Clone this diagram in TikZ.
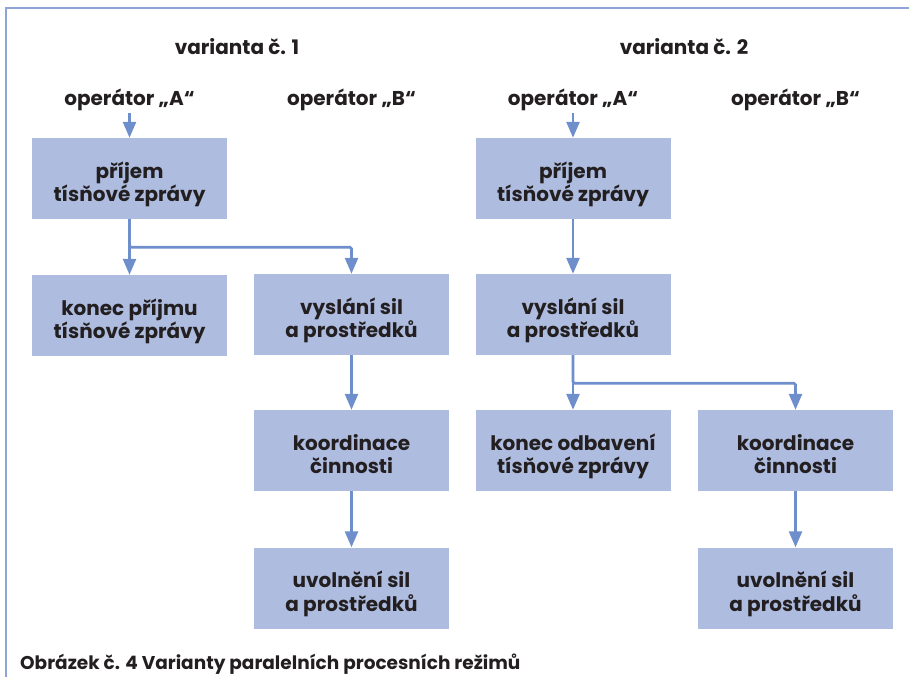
\documentclass[tikz,border=0pt]{standalone}
\usepackage{fontspec}
\setmainfont{Poppins}
\usetikzlibrary{arrows.meta}
\definecolor{boxblue}{HTML}{AEBCE0}
\definecolor{arrblue}{HTML}{6F8FCC}
\definecolor{frameblue}{HTML}{8EA5D8}
\definecolor{ink}{HTML}{231F20}
\tikzset{
  krok/.style={fill=boxblue,minimum width=195pt,minimum height=81pt,align=center,
    text=ink,font=\bfseries\fontsize{20}{23.5}\selectfont,inner sep=0pt,
    text height=46pt,text depth=0pt},
  popis/.style={text=ink,font=\bfseries\fontsize{20}{26}\selectfont,inner sep=0pt},
  sipka/.style={draw=arrblue,line width=2.6pt,rounded corners=1.5pt,
    -{Triangle[width=13pt,length=16pt]}}
}
\begin{document}
\begin{tikzpicture}[x=1pt,y=-1pt]
\useasboundingbox (0,0) rectangle (909,677);
\draw [frameblue,line width=2pt] (6,677) -- (6,8) -- (909,8);
% varianta 1
\node [popis] (v1) at (237,47) {varianta č. 1};
\node [popis] (opA1) at (129.5,100) {operátor „A“};
\node [popis] (opB1) at (351.5,100) {operátor „B“};
\node [krok] (prijem1) at (129.5,178.5) {příjem\\tísňové zprávy};
\node [krok] (konec1) at (129.5,315.5) {konec příjmu\\tísňové zprávy};
\node [krok] (vyslani1) at (351.5,314.5) {vyslání sil\\a prostředků};
\node [krok] (koord1) at (351.5,450.5) {koordinace\\činnosti};
\node [krok] (uvol1) at (351.5,588) {uvolnění sil\\a prostředků};
% varianta 2
\node [popis] (v2) at (684,47) {varianta č. 2};
\node [popis] (opA2) at (573,100) {operátor „A“};
\node [popis] (opB2) at (795.5,100) {operátor „B“};
\node [krok] (prijem2) at (573,178.5) {příjem\\tísňové zprávy};
\node [krok] (vyslani2) at (573,314.5) {vyslání sil\\a prostředků};
\node [krok] (konec2) at (573,450.5) {konec odbavení\\tísňové zprávy};
\node [krok] (koord2) at (795.5,450.5) {koordinace\\činnosti};
\node [krok] (uvol2) at (795.5,588) {uvolnění sil\\a prostředků};
% sipky
\draw [sipka] (opA1.south) ++(0,2) -- (prijem1.north);
\draw [sipka] (prijem1.south) -- (konec1.north);
\draw [sipka] (prijem1.south) -- ++(0,28) -| (vyslani1.north);
\draw [sipka] (vyslani1.south) -- (koord1.north);
\draw [sipka] (koord1.south) -- (uvol1.north);
\draw [sipka] (opA2.south) ++(0,2) -- (prijem2.north);
\draw [sipka] (prijem2.south) -- (vyslani2.north);
\draw [sipka] (vyslani2.south) -- (konec2.north);
\draw [sipka] (vyslani2.south) -- ++(0,28) -| (koord2.north);
\draw [sipka] (koord2.south) -- (uvol2.north);
\node [popis,anchor=west,font=\bfseries\fontsize{18.5}{22}\selectfont] (obr) at (20,664)
  {Obrázek č. 4 Varianty paralelních procesních režimů};
\end{tikzpicture}
\end{document}
